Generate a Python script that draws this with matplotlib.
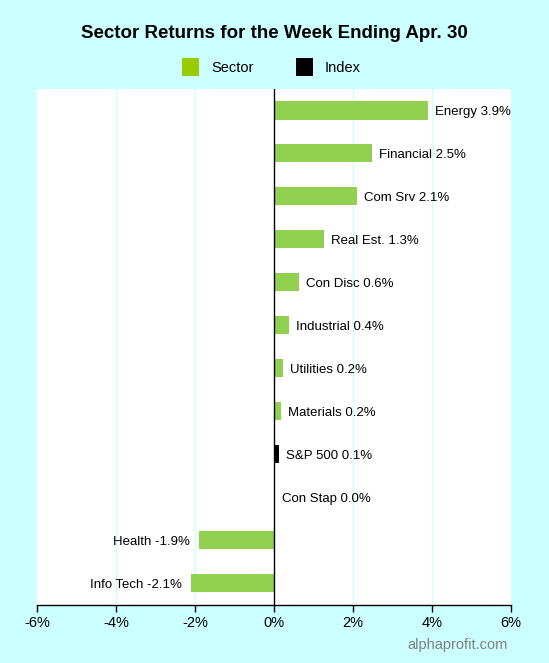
import matplotlib
matplotlib.use("Agg")
import matplotlib.pyplot as plt
from matplotlib.patches import Patch

plt.rcParams['font.family'] = ['Liberation Sans', 'DejaVu Sans']

# sectors from top to bottom
sectors = ['Energy', 'Financial', 'Com Srv', 'Real Est.', 'Con Disc', 'Industrial',
           'Utilities', 'Materials', 'S&P 500', 'Con Stap', 'Health', 'Info Tech']
returns = [3.91, 2.49, 2.10, 1.26, 0.63, 0.37, 0.22, 0.17, 0.13, 0.03, -1.90, -2.11]
is_index = [False, False, False, False, False, False, False, False, True, False, False, False]
x_ticks = [-6, -4, -2, 0, 2, 4, 6]

BG = '#CCFFFF'
BAR = '#92D050'

fig = plt.figure(figsize=(5.49, 6.63), dpi=100, facecolor=BG)
ax = fig.add_axes([37 / 549, 1 - 604.5 / 663, 474 / 549, 515.5 / 663])
ax.set_facecolor('white')

ypos = list(range(len(sectors)))[::-1]
colors = ['black' if idx else BAR for idx in is_index]
ax.barh(ypos, returns, height=0.42, color=colors, zorder=3)

for y, name, val in zip(ypos, sectors, returns):
    label = f"{name} {val:.1f}%"
    if val >= 0:
        ax.annotate(label, (val, y), xytext=(5, 0), textcoords='offset points',
                    ha='left', va='center_baseline', fontsize=9.5, zorder=4)
    else:
        ax.annotate(label, (val, y), xytext=(-6.5, 0), textcoords='offset points',
                    ha='right', va='center_baseline', fontsize=9.5, zorder=4)

ax.set_xlim(-6, 6)
ax.set_ylim(-0.5, len(sectors) - 0.5)
ax.set_xticks(x_ticks)
ax.set_xticklabels([f"{t}%" for t in x_ticks], fontsize=10.5)
ax.set_yticks([])
ax.tick_params(axis='x', direction='out', length=5, width=1, pad=3)
for t in x_ticks:
    if t not in (-6, 0, 6):
        ax.axvline(t, color=BG, linewidth=1, zorder=1)
ax.axvline(0, color='black', linewidth=1, zorder=5)

for side in ['top', 'left', 'right']:
    ax.spines[side].set_visible(False)
ax.spines['bottom'].set_linewidth(1)

fig.text(0.5, 1 - 33 / 663, 'Sector Returns for the Week Ending Apr. 30',
         ha='center', va='center', fontsize=13.5, fontweight='bold')

handles = [Patch(facecolor='#99CC00', label='Sector'),
           Patch(facecolor='black', label='Index')]
fig.legend(handles=handles, loc='center', bbox_to_anchor=(0.494, 1 - 67 / 663),
           ncol=2, frameon=False, fontsize=10.5, handlelength=1.2, handleheight=1.5,
           handletextpad=0.8, columnspacing=2.9)

fig.text(508 / 549, 1 - 645 / 663, 'alphaprofit.com', ha='right', va='center',
         fontsize=10.5, color='#808080')

fig.savefig('out.png', dpi=100, facecolor=BG)
